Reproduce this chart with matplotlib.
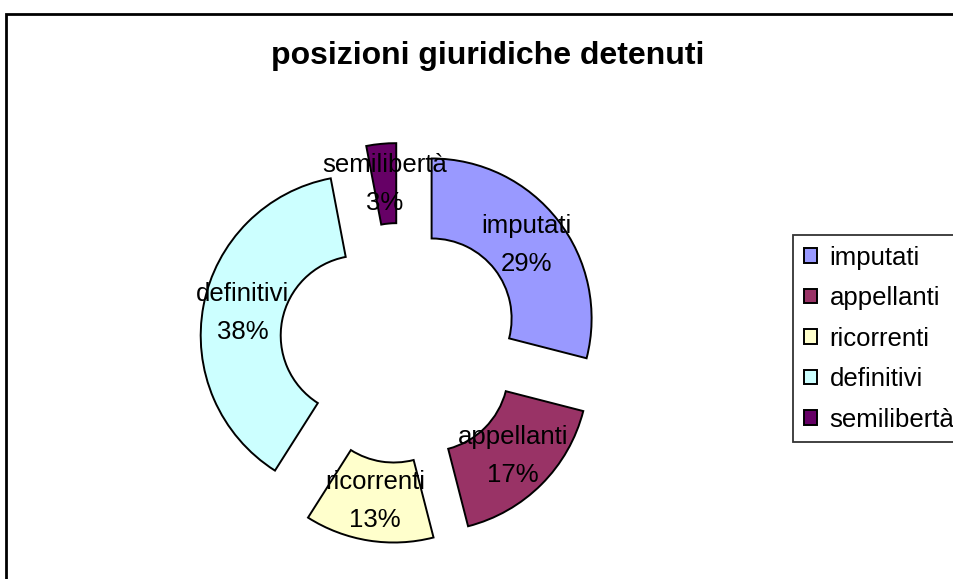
import matplotlib
matplotlib.use('Agg')
import matplotlib.pyplot as plt
from matplotlib.patches import Rectangle

plt.rcParams['font.family'] = ['Liberation Sans', 'DejaVu Sans']

# data
categories = ['imputati', 'appellanti', 'ricorrenti', 'definitivi', 'semilibertà']
shares = [29, 17, 13, 38, 3]
colors = ['#9999FF', '#993366', '#FFFFCC', '#CCFFFF', '#660066']

W, H = 954, 579
fig = plt.figure(figsize=(W / 100, H / 100), dpi=100)
ax = fig.add_axes([0, 0, 1, 1])

# label text for each slice: name + percentage
label_iter = iter(categories)
def make_label(pct):
    return f"{next(label_iter)}\n{pct:.0f}%"

wedges, texts, autotexts = ax.pie(
    shares, colors=colors, startangle=90, counterclock=False,
    radius=1.0, explode=[0.25] * len(shares),
    wedgeprops=dict(width=0.5, edgecolor='black', linewidth=1.4),
    autopct=make_label, pctdistance=0.75,
    textprops=dict(fontsize=18.5, color='black', linespacing=1.75))

# map data units to pixels: centre at (400, 343), 160 px per unit
cx, cy, scale = 400, 343, 160
ax.set_xlim(-cx / scale, (W - cx) / scale)
ax.set_ylim((cy - H) / scale, cy / scale)
ax.set_aspect('auto')
ax.axis('off')

fig.text(488 / W, 1 - 56 / H, 'posizioni giuridiche detenuti',
         ha='center', va='center', fontsize=23, fontweight='bold')

leg = fig.legend(wedges, categories, loc='upper left',
                 bbox_to_anchor=(793 / W, 1 - 235 / H), borderaxespad=0,
                 prop=dict(size=18.5), frameon=True, fancybox=False,
                 shadow=False, handlelength=0.5, handleheight=0.5,
                 handletextpad=0.5, labelspacing=0.64, borderpad=0.42)
leg.get_frame().set_edgecolor('black')
leg.get_frame().set_linewidth(1.3)

# outer chart border (only top and left visible)
fig.patches.append(Rectangle((6 / W, -0.1), 2, 1 - 14 / H + 0.1,
                             transform=fig.transFigure, fill=False,
                             edgecolor='black', linewidth=2))

fig.savefig('out.png', dpi=100)
